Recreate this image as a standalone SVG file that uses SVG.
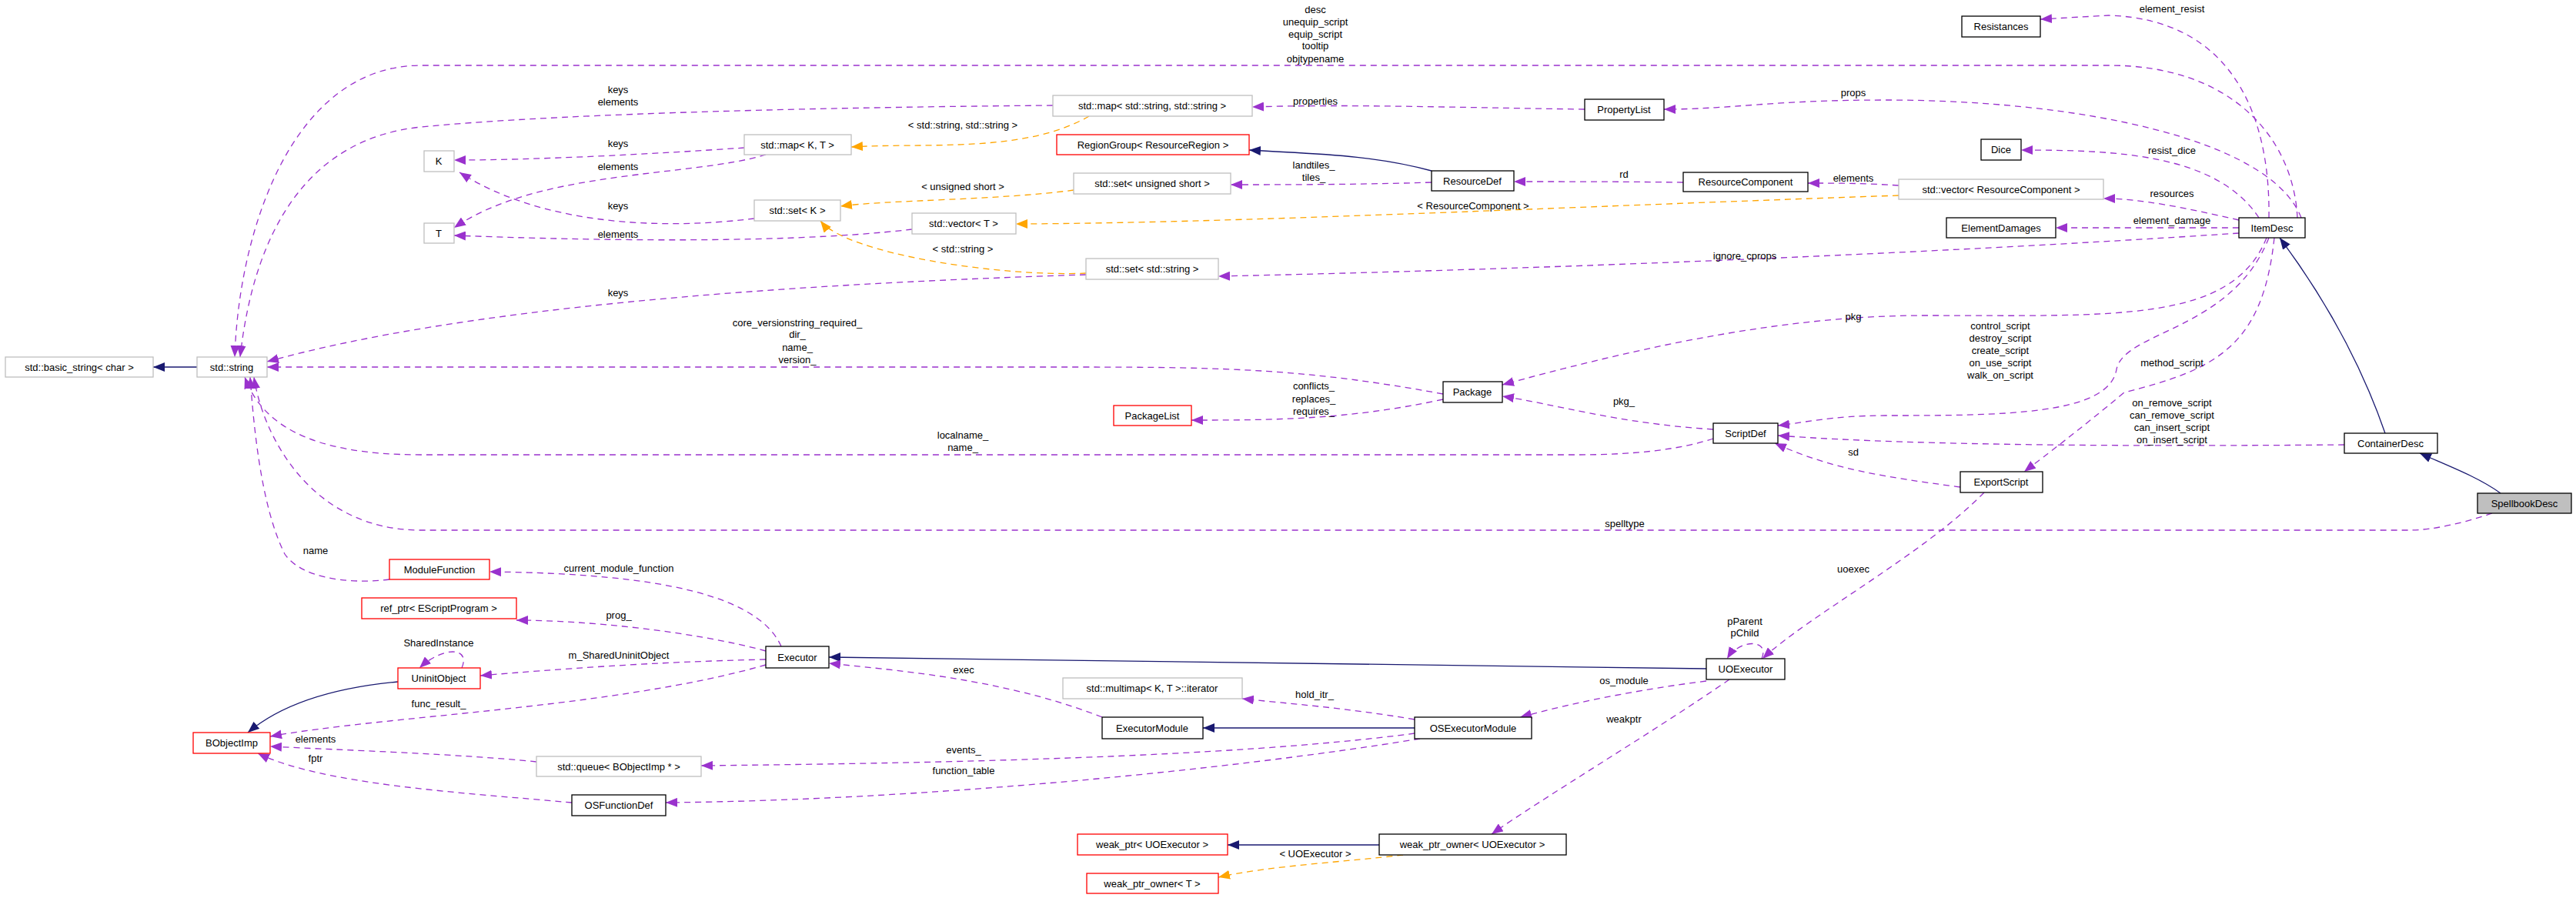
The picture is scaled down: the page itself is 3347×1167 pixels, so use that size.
<svg xmlns="http://www.w3.org/2000/svg" width="3347" height="1167" viewBox="0 0 3347 1167">
<style>
text{font-family:"Liberation Sans",Arial,sans-serif;font-size:13px;fill:#000}
.n text{text-anchor:middle}
.l{text-anchor:middle}
rect{fill:#fff;stroke-width:1.3}
.k{stroke:#000}.g{stroke:#bfbfbf}.r{stroke:#ff0000}
.e path{fill:none;stroke-width:1.3}
.u{stroke:#9a32cd;stroke-dasharray:8,6;marker-end:url(#mu)}
.o{stroke:#ffa500;stroke-dasharray:8,6;marker-end:url(#mo)}
.b{stroke:#191970;marker-end:url(#mb)}
</style>
<defs>
<marker id="mu" markerUnits="userSpaceOnUse" markerWidth="16" markerHeight="12" refX="15" refY="6" orient="auto"><path d="M0,0 L15,6 L0,12 z" fill="#9a32cd"/></marker>
<marker id="mo" markerUnits="userSpaceOnUse" markerWidth="16" markerHeight="12" refX="15" refY="6" orient="auto"><path d="M0,0 L15,6 L0,12 z" fill="#ffa500"/></marker>
<marker id="mb" markerUnits="userSpaceOnUse" markerWidth="16" markerHeight="12" refX="15" refY="6" orient="auto"><path d="M0,0 L15,6 L0,12 z" fill="#191970"/></marker>
</defs>
<rect x="0" y="0" width="3347" height="1167" style="fill:#fff;stroke:none"/>
<g id="edges" class="e">
<path class="b" d="M256,477 L199,477"/>
<path class="u" d="M2985,283 C2980,180 2900,85 2741,85 L547,85 C380,85 310,300 305,464"/>
<path class="u" d="M1368,137 C1000,140 700,150 547,165 C400,180 330,300 312,464"/>
<path class="u" d="M967,192 C850,200 700,208 590,208"/>
<path class="u" d="M995,201 C900,230 700,220 590,296"/>
<path class="u" d="M980,284 C850,300 700,290 597,224"/>
<path class="u" d="M1185,298 C1000,320 700,310 590,306"/>
<path class="o" d="M1415,151 C1330,200 1200,185 1106,191"/>
<path class="o" d="M1395,247 C1300,260 1150,260 1092,268"/>
<path class="o" d="M1411,355 C1300,360 1100,330 1066,287"/>
<path class="u" d="M1411,357 C1000,370 600,400 347,470"/>
<path class="u" d="M2059,142 C1900,140 1750,135 1627,139"/>
<path class="b" d="M1860,222 C1780,200 1700,200 1623,195"/>
<path class="u" d="M1860,237 C1760,240 1680,240 1599,240"/>
<path class="u" d="M2187,237 C2100,236 2050,236 1967,236"/>
<path class="u" d="M2467,241 C2420,238 2390,238 2349,238"/>
<path class="o" d="M2467,254 C2000,270 1600,290 1320,291"/>
<path class="u" d="M2990,283 C2950,180 2700,130 2450,130 C2300,130 2250,142 2162,142"/>
<path class="u" d="M2948,283 C2950,150 2900,25 2740,20 L2651,25"/>
<path class="u" d="M2935,283 C2880,200 2750,195 2626,195"/>
<path class="u" d="M2909,286 C2840,270 2780,258 2733,258"/>
<path class="u" d="M2909,296 C2800,296 2740,296 2671,296"/>
<path class="u" d="M2909,303 C2500,330 2000,350 1583,359"/>
<path class="u" d="M2945,309 C2900,420 2750,410 2500,410 C2300,410 2100,460 1952,500"/>
<path class="u" d="M2948,309 C2900,430 2760,430 2750,480 C2740,540 2600,540 2450,540 C2380,540 2340,550 2310,553"/>
<path class="u" d="M2955,309 C2940,450 2880,480 2760,510 C2700,560 2660,590 2630,613"/>
<path class="b" d="M3099,563 C3060,450 3000,360 2962,309"/>
<path class="u" d="M3046,578 C2800,580 2500,580 2310,566"/>
<path class="b" d="M3249,641 C3220,620 3180,605 3144,589"/>
<path class="u" d="M3238,667 C3200,680 3160,689 3130,689 L547,689 C400,689 340,560 330,490"/>
<path class="u" d="M2226,558 C2100,550 2020,525 1952,515"/>
<path class="u" d="M2226,570 C2180,585 2120,591 2050,591 L547,591 C400,591 340,550 318,490"/>
<path class="u" d="M1875,512 C1700,480 1600,477 1400,477 L347,477"/>
<path class="u" d="M1875,519 C1750,546 1650,546 1548,546"/>
<path class="u" d="M2547,633 C2450,620 2380,610 2306,576"/>
<path class="u" d="M2578,640 C2500,720 2350,800 2290,856"/>
<path class="u" d="M2289,856 C2300,830 2260,830 2244,856"/>
<path class="b" d="M2217,869 C1800,865 1400,856 1077,854"/>
<path class="u" d="M2217,885 C2100,900 2020,920 1975,932"/>
<path class="u" d="M2247,883 C2150,950 2000,1040 1938,1084"/>
<path class="b" d="M1792,1098 L1595,1098"/>
<path class="o" d="M1823,1111 C1750,1120 1650,1125 1583,1140"/>
<path class="b" d="M1838,946 L1563,946"/>
<path class="u" d="M1838,935 C1750,920 1680,915 1614,908"/>
<path class="u" d="M1838,953 C1600,985 1200,992 911,995"/>
<path class="u" d="M1845,960 C1600,1000 1200,1040 865,1043"/>
<path class="u" d="M1432,932 C1300,880 1150,870 1077,862"/>
<path class="u" d="M1015,840 C980,760 800,745 636,743"/>
<path class="u" d="M995,846 C900,820 760,806 671,806"/>
<path class="u" d="M995,857 C850,860 720,870 624,878"/>
<path class="u" d="M995,864 C800,920 500,930 351,957"/>
<path class="u" d="M600,868 C612,840 575,840 545,868"/>
<path class="b" d="M517,886 C420,895 360,920 322,952"/>
<path class="u" d="M506,753 C450,760 390,750 370,720 C340,660 330,560 325,490"/>
<path class="u" d="M697,990 C600,980 450,975 351,970"/>
<path class="u" d="M743,1043 C600,1030 420,1020 335,979"/>
</g>
<g class="l">
<text class="l" x="1709" y="17">desc</text><text class="l" x="1709" y="33">unequip_script</text><text class="l" x="1709" y="49">equip_script</text><text class="l" x="1709" y="64">tooltip</text><text class="l" x="1709" y="81">objtypename</text>
<text class="l" x="803" y="121">keys</text><text class="l" x="803" y="137">elements</text>
<text class="l" x="803" y="191">keys</text><text class="l" x="803" y="221">elements</text>
<text class="l" x="803" y="272">keys</text><text class="l" x="803" y="309">elements</text>
<text class="l" x="803" y="385">keys</text>
<text class="l" x="1036" y="424">core_versionstring_required_</text><text class="l" x="1036" y="439">dir_</text><text class="l" x="1036" y="456">name_</text><text class="l" x="1036" y="472">version_</text>
<text class="l" x="1251" y="167">&lt; std::string, std::string &gt;</text>
<text class="l" x="1251" y="247">&lt; unsigned short &gt;</text>
<text class="l" x="1251" y="328">&lt; std::string &gt;</text>
<text class="l" x="1709" y="136">properties</text>
<text class="l" x="1707" y="219">landtiles_</text><text class="l" x="1707" y="235">tiles_</text>
<text class="l" x="2110" y="231">rd</text>
<text class="l" x="1914" y="272">&lt; ResourceComponent &gt;</text>
<text class="l" x="1707" y="506">conflicts_</text><text class="l" x="1707" y="523">replaces_</text><text class="l" x="1707" y="539">requires_</text>
<text class="l" x="2110" y="526">pkg_</text>
<text class="l" x="1251" y="570">localname_</text><text class="l" x="1251" y="586">name_</text>
<text class="l" x="2822" y="16">element_resist</text>
<text class="l" x="2408" y="125">props</text>
<text class="l" x="2822" y="200">resist_dice</text>
<text class="l" x="2408" y="236">elements</text>
<text class="l" x="2822" y="256">resources</text>
<text class="l" x="2822" y="291">element_damage</text>
<text class="l" x="2267" y="337">ignore_cprops</text>
<text class="l" x="2408" y="416">pkg</text>
<text class="l" x="2599" y="428">control_script</text><text class="l" x="2599" y="444">destroy_script</text><text class="l" x="2599" y="460">create_script</text><text class="l" x="2599" y="476">on_use_script</text><text class="l" x="2599" y="492">walk_on_script</text>
<text class="l" x="2822" y="476">method_script</text>
<text class="l" x="2822" y="528">on_remove_script</text><text class="l" x="2822" y="544">can_remove_script</text><text class="l" x="2822" y="560">can_insert_script</text><text class="l" x="2822" y="576">on_insert_script</text>
<text class="l" x="2408" y="592">sd</text>
<text class="l" x="2111" y="685">spelltype</text>
<text class="l" x="410" y="720">name</text>
<text class="l" x="804" y="743">current_module_function</text>
<text class="l" x="2408" y="744">uoexec</text>
<text class="l" x="804" y="804">prog_</text>
<text class="l" x="2267" y="812">pParent</text><text class="l" x="2267" y="827">pChild</text>
<text class="l" x="570" y="840">SharedInstance</text>
<text class="l" x="804" y="856">m_SharedUninitObject</text>
<text class="l" x="1252" y="875">exec</text>
<text class="l" x="2110" y="889">os_module</text>
<text class="l" x="1708" y="907">hold_itr_</text>
<text class="l" x="570" y="919">func_result_</text>
<text class="l" x="2110" y="939">weakptr</text>
<text class="l" x="410" y="965">elements</text>
<text class="l" x="1252" y="979">events_</text>
<text class="l" x="410" y="990">fptr</text>
<text class="l" x="1252" y="1006">function_table</text>
<text class="l" x="1709" y="1114">&lt; UOExecutor &gt;</text>
</g>
<g id="n_basic_string" class="n"><rect class="g" x="7" y="464" width="192" height="26"/><text x="103" y="482">std::basic_string&lt; char &gt;</text></g>
<g id="n_string" class="n"><rect class="g" x="256" y="464" width="91" height="26"/><text x="301" y="482">std::string</text></g>
<g id="n_K" class="n"><rect class="g" x="551" y="196" width="39" height="27"/><text x="570" y="214">K</text></g>
<g id="n_T" class="n"><rect class="g" x="551" y="290" width="39" height="26"/><text x="570" y="308">T</text></g>
<g id="n_mapKT" class="n"><rect class="g" x="967" y="175" width="139" height="26"/><text x="1036" y="193">std::map&lt; K, T &gt;</text></g>
<g id="n_setK" class="n"><rect class="g" x="980" y="260" width="112" height="27"/><text x="1036" y="278">std::set&lt; K &gt;</text></g>
<g id="n_vectorT" class="n"><rect class="g" x="1185" y="277" width="135" height="27"/><text x="1252" y="295">std::vector&lt; T &gt;</text></g>
<g id="n_mapss" class="n"><rect class="g" x="1368" y="124" width="259" height="27"/><text x="1497" y="142">std::map&lt; std::string, std::string &gt;</text></g>
<g id="n_regiongroup" class="n"><rect class="r" x="1373" y="175" width="250" height="26"/><text x="1498" y="193">RegionGroup&lt; ResourceRegion &gt;</text></g>
<g id="n_setus" class="n"><rect class="g" x="1395" y="225" width="204" height="27"/><text x="1497" y="243">std::set&lt; unsigned short &gt;</text></g>
<g id="n_setstr" class="n"><rect class="g" x="1411" y="336" width="172" height="27"/><text x="1497" y="354">std::set&lt; std::string &gt;</text></g>
<g id="n_propertylist" class="n"><rect class="k" x="2059" y="129" width="103" height="27"/><text x="2110" y="147">PropertyList</text></g>
<g id="n_resourcedef" class="n"><rect class="k" x="1860" y="222" width="107" height="26"/><text x="1913" y="240">ResourceDef</text></g>
<g id="n_resourcecomponent" class="n"><rect class="k" x="2187" y="224" width="162" height="25"/><text x="2268" y="241">ResourceComponent</text></g>
<g id="n_vectorrc" class="n"><rect class="g" x="2467" y="233" width="266" height="26"/><text x="2600" y="251">std::vector&lt; ResourceComponent &gt;</text></g>
<g id="n_resistances" class="n"><rect class="k" x="2549" y="21" width="102" height="27"/><text x="2600" y="39">Resistances</text></g>
<g id="n_dice" class="n"><rect class="k" x="2574" y="181" width="52" height="27"/><text x="2600" y="199">Dice</text></g>
<g id="n_elementdamages" class="n"><rect class="k" x="2529" y="283" width="142" height="26"/><text x="2600" y="301">ElementDamages</text></g>
<g id="n_itemdesc" class="n"><rect class="k" x="2909" y="283" width="86" height="26"/><text x="2952" y="301">ItemDesc</text></g>
<g id="n_package" class="n"><rect class="k" x="1875" y="496" width="77" height="27"/><text x="1913" y="514">Package</text></g>
<g id="n_packagelist" class="n"><rect class="r" x="1447" y="527" width="101" height="26"/><text x="1497" y="545">PackageList</text></g>
<g id="n_scriptdef" class="n"><rect class="k" x="2226" y="550" width="84" height="26"/><text x="2268" y="568">ScriptDef</text></g>
<g id="n_containerdesc" class="n"><rect class="k" x="3046" y="563" width="121" height="26"/><text x="3106" y="581">ContainerDesc</text></g>
<g id="n_exportscript" class="n"><rect class="k" x="2547" y="613" width="107" height="27"/><text x="2600" y="631">ExportScript</text></g>
<g id="n_spellbookdesc" class="n"><rect class="k" x="3219" y="641" width="122" height="26" style="fill:#bfbfbf"/><text x="3280" y="659">SpellbookDesc</text></g>
<g id="n_modulefunction" class="n"><rect class="r" x="506" y="727" width="130" height="26"/><text x="571" y="745">ModuleFunction</text></g>
<g id="n_refptr" class="n"><rect class="r" x="470" y="777" width="201" height="27"/><text x="570" y="795">ref_ptr&lt; EScriptProgram &gt;</text></g>
<g id="n_uninitobject" class="n"><rect class="r" x="517" y="868" width="107" height="27"/><text x="570" y="886">UninitObject</text></g>
<g id="n_executor" class="n"><rect class="k" x="995" y="840" width="82" height="28"/><text x="1036" y="859">Executor</text></g>
<g id="n_bobjectimp" class="n"><rect class="r" x="251" y="952" width="100" height="27"/><text x="301" y="970">BObjectImp</text></g>
<g id="n_queue" class="n"><rect class="g" x="697" y="983" width="214" height="26"/><text x="804" y="1001">std::queue&lt; BObjectImp * &gt;</text></g>
<g id="n_osfunctiondef" class="n"><rect class="k" x="743" y="1033" width="122" height="27"/><text x="804" y="1051">OSFunctionDef</text></g>
<g id="n_multimapit" class="n"><rect class="g" x="1381" y="881" width="233" height="27"/><text x="1497" y="899">std::multimap&lt; K, T &gt;::iterator</text></g>
<g id="n_executormodule" class="n"><rect class="k" x="1432" y="932" width="131" height="28"/><text x="1497" y="951">ExecutorModule</text></g>
<g id="n_osexecutormodule" class="n"><rect class="k" x="1838" y="932" width="152" height="28"/><text x="1914" y="951">OSExecutorModule</text></g>
<g id="n_uoexecutor" class="n"><rect class="k" x="2217" y="856" width="102" height="27"/><text x="2268" y="874">UOExecutor</text></g>
<g id="n_weakptr" class="n"><rect class="r" x="1400" y="1084" width="195" height="27"/><text x="1497" y="1102">weak_ptr&lt; UOExecutor &gt;</text></g>
<g id="n_weakptrowner" class="n"><rect class="k" x="1792" y="1084" width="243" height="27"/><text x="1913" y="1102">weak_ptr_owner&lt; UOExecutor &gt;</text></g>
<g id="n_weakptrownerT" class="n"><rect class="r" x="1412" y="1135" width="171" height="26"/><text x="1497" y="1153">weak_ptr_owner&lt; T &gt;</text></g>
</svg>
